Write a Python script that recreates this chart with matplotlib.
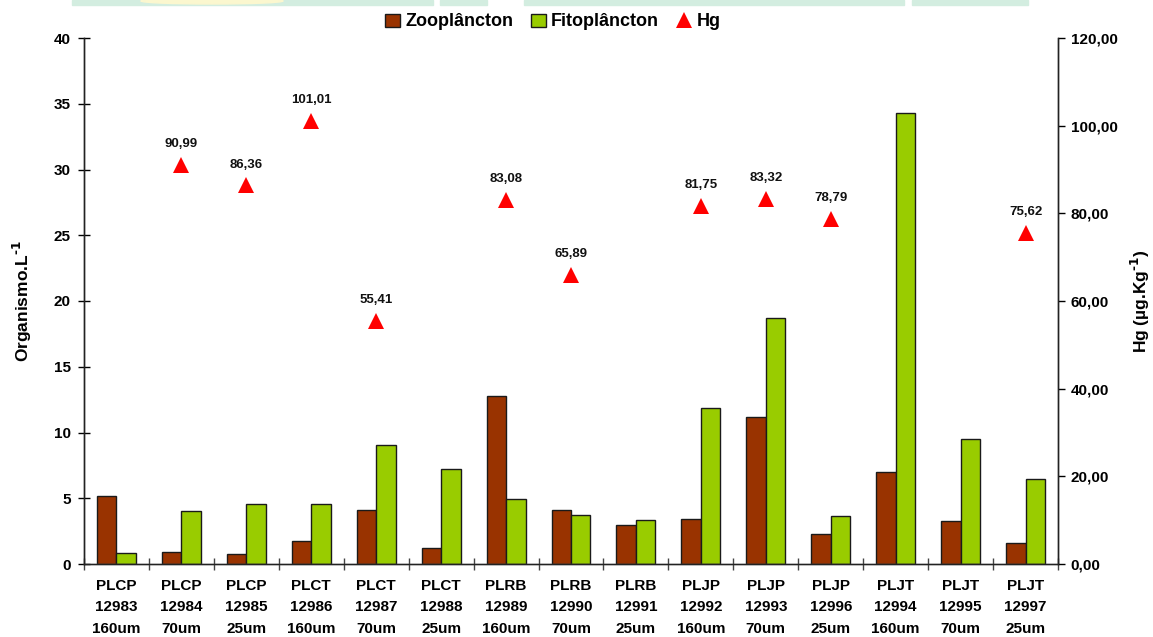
import numpy as np
import matplotlib
matplotlib.use("Agg")
from matplotlib import pyplot as plt
from matplotlib.patches import Rectangle, Ellipse
from matplotlib.ticker import FixedLocator, FuncFormatter

plt.rcParams['font.family'] = ['Liberation Sans', 'DejaVu Sans']
plt.rcParams['font.weight'] = 'bold'
plt.rcParams['mathtext.default'] = 'bf'

# amostras
pontos = ['PLCP', 'PLCP', 'PLCP', 'PLCT', 'PLCT', 'PLCT', 'PLRB', 'PLRB', 'PLRB',
          'PLJP', 'PLJP', 'PLJP', 'PLJT', 'PLJT', 'PLJT']
codigos = ['12983', '12984', '12985', '12986', '12987', '12988', '12989', '12990',
           '12991', '12992', '12993', '12996', '12994', '12995', '12997']
malhas = ['160um', '70um', '25um', '160um', '70um', '25um', '160um', '70um', '25um',
          '160um', '70um', '25um', '160um', '70um', '25um']

# organismos por litro
zooplancton = [5.2, 0.94, 0.74, 1.77, 4.1, 1.19, 12.8, 4.1, 2.99, 3.45, 11.2, 2.26, 7.0, 3.27, 1.57]
fitoplancton = [0.85, 4.0, 4.56, 4.56, 9.02, 7.2, 4.94, 3.73, 3.35, 11.84, 18.7, 3.65, 34.3, 9.53, 6.46]

# mercúrio (None = sem análise)
hg = [None, 90.99, 86.36, 101.01, 55.41, None, 83.08, 65.89, None,
      81.75, 83.32, 78.79, None, None, 75.62]

cor_zoo = '#993300'
cor_fito = '#99CC00'

fig = plt.figure(figsize=(11.53, 6.37), dpi=100)
W, H = 1153, 637

# faixa decorativa no topo
for x0, x1 in [(72, 433), (440, 487), (524, 904), (912, 1028)]:
    fig.patches.append(Rectangle((x0 / W, 1 - 5 / H), (x1 - x0) / W, 5 / H,
                                 transform=fig.transFigure, color='#d3ede0', zorder=0))
fig.patches.append(Ellipse((212 / W, 1 - 1 / H), 142 / W, 6 / H,
                           transform=fig.transFigure, color='#fbf7cf', zorder=1))

ax = fig.add_axes([84 / W, 1 - 564 / H, (1058 - 84) / W, (564 - 38) / H])
ax2 = ax.twinx()

x = np.arange(len(pontos))
larg = 0.3
b1 = ax.bar(x - larg / 2, zooplancton, larg, color=cor_zoo, edgecolor='#1a1a1a',
            linewidth=1, label='Zooplâncton', zorder=2)
b2 = ax.bar(x + larg / 2, fitoplancton, larg, color=cor_fito, edgecolor='#1a1a1a',
            linewidth=1, label='Fitoplâncton', zorder=2)

hx = [i for i, v in enumerate(hg) if v is not None]
hv = [v for v in hg if v is not None]
tri = ax2.plot(hx, hv, linestyle='none', marker='^', markersize=11,
               color='#ff0000', markeredgewidth=0, label='Hg')[0]
for xi, v in zip(hx, hv):
    ax2.annotate(f'{v:.2f}'.replace('.', ','), (xi, v), xytext=(0, 15),
                 textcoords='offset points', ha='center', va='center',
                 fontsize=9.5, fontweight='bold', color='#111111')

ax.set_xlim(-0.5, len(pontos) - 0.5)
ax.set_ylim(0, 40)
ax2.set_ylim(0, 120)

ax.set_yticks(range(0, 41, 5))
ax2.set_yticks(range(0, 121, 20))
ax2.yaxis.set_major_formatter(FuncFormatter(lambda v, p: f'{v:.2f}'.replace('.', ',')))

ax.set_xticks(x)
ax.set_xticklabels([f'{a}\n{b}\n{c}' for a, b, c in zip(pontos, codigos, malhas)],
                   fontsize=11, fontweight='bold', linespacing=1.65)
ax.xaxis.set_minor_locator(FixedLocator(np.arange(-0.5, len(pontos), 1.0)))
ax.tick_params(axis='x', which='major', length=0, pad=11)
ax.tick_params(axis='x', which='minor', direction='inout', length=9, width=1, color='#444444')
ax.tick_params(axis='y', direction='inout', length=9, width=1, labelsize=11, pad=5)
ax2.tick_params(axis='y', direction='out', length=5, width=1, labelsize=11, pad=4)
for lab in ax.get_yticklabels() + ax2.get_yticklabels():
    lab.set_fontweight('bold')

for a in (ax, ax2):
    a.spines['top'].set_visible(False)
    for s in ('left', 'right', 'bottom'):
        a.spines[s].set_linewidth(1)
        a.spines[s].set_color('#222222')
ax.spines['bottom'].set_color('#555555')

ax.set_ylabel('Organismo.L$^{\\text{-1}}$', fontsize=12.5, fontweight='bold', labelpad=14)
ax2.set_ylabel('Hg (µg.Kg$^{\\text{-1}}$)', fontsize=12.5, fontweight='bold', labelpad=8)

fig.legend([b1, b2, tri], ['Zooplâncton', 'Fitoplâncton', 'Hg'], loc='center',
           bbox_to_anchor=(553 / W, 1 - 22 / H), ncol=3, frameon=False,
           handlelength=0.8, handletextpad=0.3, columnspacing=1.0,
           prop={'weight': 'bold', 'size': 13})

fig.savefig('out.png', dpi=100)
